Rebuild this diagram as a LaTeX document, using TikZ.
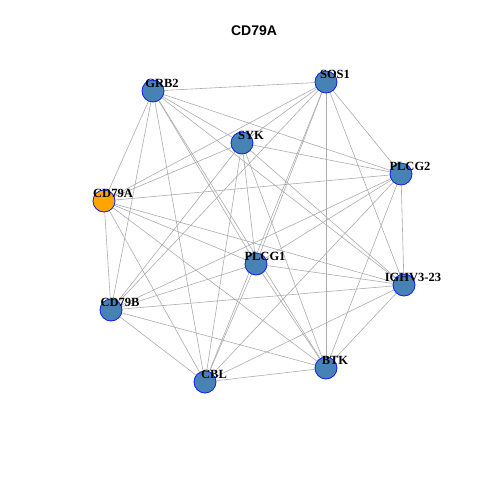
\documentclass[tikz,border=0pt]{standalone}
\usepackage{fontspec}
\setmainfont{Liberation Serif}
\newfontfamily\titlefont{Liberation Sans}
\usepackage{tikz}
\usetikzlibrary{backgrounds}
\definecolor{steelblue}{RGB}{70,130,180}
\definecolor{vorange}{RGB}{255,165,0}
\definecolor{vframe}{RGB}{10,30,245}
\definecolor{edgegray}{RGB}{172,172,172}

\begin{document}
\begin{tikzpicture}[x=1pt,y=-1pt,
    vert/.style={circle, draw=vframe, line width=0.8pt, minimum size=22pt, inner sep=0pt},
    lbl/.style={anchor=base, inner sep=0pt, font=\fontsize{12.5}{14}\selectfont\bfseries},
    edge/.style={draw=edgegray, line width=0.6pt}]
    \useasboundingbox (0,0) rectangle (480,480);
    \node[anchor=base, font=\titlefont\fontsize{14}{16}\selectfont\bfseries] (title) at (254,35) {CD79A};
    % vertices: name/x/y/fill/label
    \foreach \name/\x/\y/\col/\txt in {
        grb/153/91/steelblue/GRB2,
        sos/326/82/steelblue/SOS1,
        syk/242/143/steelblue/SYK,
        plcgb/401/174/steelblue/PLCG2,
        cda/104/201/vorange/CD79A,
        plcga/256/264/steelblue/PLCG1,
        ighv/404/285/steelblue/IGHV3-23,
        cdb/111/310/steelblue/CD79B,
        cbl/205/382/steelblue/CBL,
        btk/326/368/steelblue/BTK} {
        \node[vert, fill=\col] (\name) at (\x,\y) {};
        \node[lbl] (\name-l) at (\x+9,\y-3.5) {\txt};
    }
    % interactions
    \begin{scope}[on background layer]
    \foreach \a/\b in {grb/sos, grb/syk, grb/plcgb, grb/cda, grb/plcga, grb/ighv, grb/cdb, grb/cbl, grb/btk,
        sos/syk, sos/plcgb, sos/cda, sos/plcga, sos/ighv, sos/cdb, sos/cbl, sos/btk,
        syk/plcgb, syk/cda, syk/plcga, syk/ighv, syk/cdb, syk/cbl, syk/btk,
        plcgb/cda, plcgb/plcga, plcgb/ighv, plcgb/cdb, plcgb/cbl, plcgb/btk,
        cda/plcga, cda/ighv, cda/cdb, cda/cbl, cda/btk,
        plcga/ighv, plcga/cdb, plcga/cbl, plcga/btk,
        ighv/cdb, ighv/cbl, ighv/btk,
        cdb/cbl, cdb/btk,
        cbl/btk}
        \draw[edge] (\a) -- (\b);
    \end{scope}
\end{tikzpicture}
\end{document}
